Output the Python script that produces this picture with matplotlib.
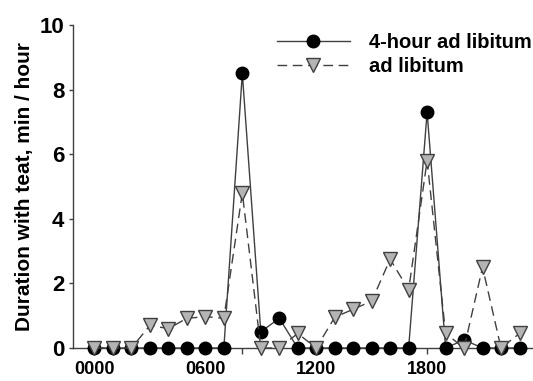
import numpy as np
import matplotlib
matplotlib.use("Agg")
import matplotlib.pyplot as plt

plt.rcParams["font.family"] = ["Liberation Sans", "DejaVu Sans"]
plt.rcParams["font.weight"] = "bold"

# 시간(시) 0~23
hours = list(range(24))
# 4-hour ad libitum (검은 원)
restricted = [0, 0, 0, 0, 0, 0, 0, 0, 8.5, 0.5, 0.92, 0,
              0, 0, 0, 0, 0, 0, 7.3, 0, 0.25, 0, 0, 0]
# ad libitum (회색 역삼각형)
adlib = [0, 0, 0, 0.7, 0.6, 0.92, 0.97, 0.92, 4.8, 0, 0, 0.45,
         0, 0.95, 1.2, 1.45, 2.75, 1.8, 5.8, 0.45, 0, 2.5, 0, 0.45]
tick_pos = [0, 6, 12, 18]
tick_labels = ["0000", "0600", "1200", "1800"]

fig = plt.figure(figsize=(5.33, 3.81), dpi=100)
ax = fig.add_axes([72.5 / 533, 33 / 381, 1 - 72.5 / 533, 323 / 381])

ax.plot(hours, restricted, "-", color="#404040", lw=1.0,
        marker="o", ms=9, mfc="black", mec="black",
        label="4-hour ad libitum", clip_on=False, zorder=3)
ax.plot(hours, adlib, "--", color="#404040", lw=1.0, dashes=(7, 4),
        marker="v", ms=10, mfc="#b4b4b4", mec="#404040", mew=1.0,
        label="ad libitum", clip_on=False, zorder=4)

ax.set_xlim(-1.19, 23.73)
ax.set_ylim(0, 10)
ax.set_yticks([0, 2, 4, 6, 8, 10])
ax.set_xticks(hours, minor=True)
ax.set_xticks(tick_pos)
ax.set_xticklabels(tick_labels, fontsize=13, fontweight="bold")
ax.tick_params(axis="x", which="both", length=4, width=1, color="#404040", pad=5)
ax.tick_params(axis="y", length=3, width=1, color="#404040", labelsize=16, pad=3)
for t in ax.get_yticklabels():
    t.set_fontweight("bold")

for side in ["top", "right"]:
    ax.spines[side].set_visible(False)
for side in ["left", "bottom"]:
    ax.spines[side].set_color("#404040")
    ax.spines[side].set_linewidth(1.0)

ax.set_ylabel("Duration with teat, min / hour", fontsize=15, fontweight="bold",
              labelpad=4)

ax.legend(loc="upper left", bbox_to_anchor=(0.405, 1.03), frameon=False,
          handlelength=3.6, handletextpad=0.95,
          labelspacing=0.25, prop={"weight": "bold", "size": 14.5})

fig.savefig("out.png", dpi=100)
